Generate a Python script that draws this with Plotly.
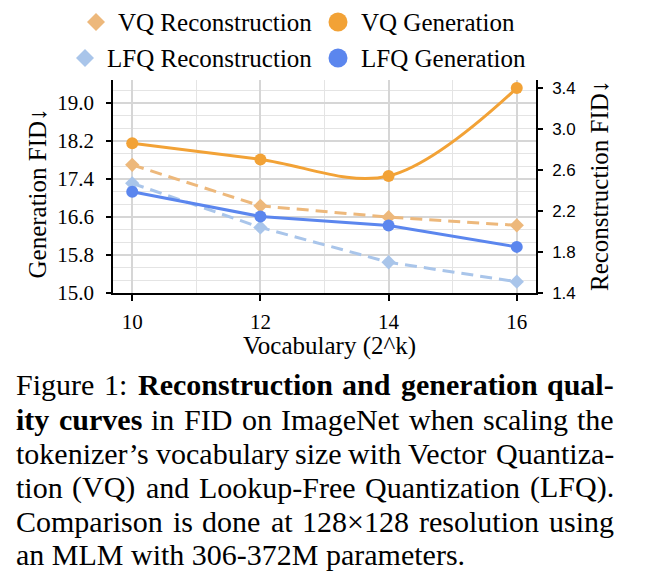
import plotly.graph_objects as go

# ---------------- data ----------------
vocab_k = [10, 12, 14, 16]
vq_generation = [18.15, 17.81, 17.46, 19.31]
lfq_generation = [17.13, 16.61, 16.42, 15.97]
vq_reconstruction = [2.65, 2.25, 2.14, 2.06]
lfq_reconstruction = [2.47, 2.04, 1.70, 1.51]

gen_ticks = [15.0, 15.8, 16.6, 17.4, 18.2, 19.0]
rec_ticks = [1.4, 1.8, 2.2, 2.6, 3.0, 3.4]
x_ticks = [10, 12, 14, 16]

# caption: (text, bold) segments per line; last line is not justified
caption_lines = [
    [("Figure 1:", False), ("Reconstruction and generation qual-", True)],
    [("ity curves", True), ("in FID on ImageNet when scaling the", False)],
    [("tokenizer\u2019s vocabulary size with Vector Quantiza-", False)],
    [("tion (VQ) and Lookup-Free Quantization (LFQ).", False)],
    [("Comparison is done at 128\u00d7128 resolution using", False)],
    [("an MLM with 306-372M parameters.", False)],
]

# ---------------- style ----------------
C_VQ_GEN = "#F2A236"
C_LFQ_GEN = "#5B86EE"
C_VQ_REC = "#EDB87B"
C_LFQ_REC = "#A9C5EA"
SERIF = "Liberation Serif, Times New Roman, serif"
SANS = "Liberation Sans, Arial, sans-serif"

W, H = 646, 578
L, R, T, B = 113, 536, 80, 293


def px(x):
    return (x - L) / (R - L)


def py(y):
    return (B - y) / (B - T)


# Times metrics (1/1000 em) used to justify the caption lines
REG = {' ': 250, '(': 333, ')': 333, ',': 250, '-': 333, '.': 250, ':': 278, '\u2019': 333, '\u00d7': 564,
       'A': 722, 'B': 667, 'C': 667, 'D': 722, 'E': 611, 'F': 556, 'G': 722, 'H': 722, 'I': 333, 'L': 611,
       'M': 889, 'N': 722, 'O': 722, 'P': 556, 'Q': 722, 'R': 667, 'S': 556, 'T': 611, 'V': 722,
       'a': 444, 'b': 500, 'c': 444, 'd': 500, 'e': 444, 'f': 333, 'g': 500, 'h': 500, 'i': 278, 'j': 278,
       'k': 500, 'l': 278, 'm': 778, 'n': 500, 'o': 500, 'p': 500, 'q': 500, 'r': 333, 's': 389, 't': 278,
       'u': 500, 'v': 500, 'w': 722, 'x': 500, 'y': 500, 'z': 444}
for d in "0123456789":
    REG[d] = 500
BOLD = {' ': 250, '-': 333, 'R': 722, 'a': 500, 'b': 556, 'c': 444, 'd': 556, 'e': 444, 'f': 333, 'g': 500,
        'h': 556, 'i': 278, 'l': 278, 'm': 833, 'n': 556, 'o': 500, 'p': 556, 'q': 556, 'r': 444, 's': 389,
        't': 333, 'u': 556, 'v': 500, 'w': 722, 'y': 500}


def word_width(word, bold, size):
    table = BOLD if bold else REG
    return sum(table.get(ch, 500) for ch in word) * size / 1000.0


fig = go.Figure()

# Reconstruction (right axis, primary 'y')
fig.add_trace(go.Scatter(
    x=vocab_k, y=vq_reconstruction, yaxis="y", mode="lines+markers",
    line=dict(color=C_VQ_REC, width=3, dash="12px,7px"),
    marker=dict(symbol="diamond", size=11, color=C_VQ_REC),
    showlegend=False, name="VQ Reconstruction"))
fig.add_trace(go.Scatter(
    x=vocab_k, y=lfq_reconstruction, yaxis="y", mode="lines+markers",
    line=dict(color=C_LFQ_REC, width=3, dash="12px,7px"),
    marker=dict(symbol="diamond", size=11, color=C_LFQ_REC),
    showlegend=False, name="LFQ Reconstruction"))
# Generation (left axis, 'y2' overlaying)
fig.add_trace(go.Scatter(
    x=vocab_k, y=vq_generation, yaxis="y2", mode="lines+markers",
    line=dict(color=C_VQ_GEN, width=3, shape="spline", smoothing=1.0),
    marker=dict(symbol="circle", size=12, color=C_VQ_GEN),
    showlegend=False, name="VQ Generation"))
fig.add_trace(go.Scatter(
    x=vocab_k, y=lfq_generation, yaxis="y2", mode="lines+markers",
    line=dict(color=C_LFQ_GEN, width=3),
    marker=dict(symbol="circle", size=12, color=C_LFQ_GEN),
    showlegend=False, name="LFQ Generation"))

grid_major = "#d6d6d6"
grid_minor = "#e4e4e4"
tickstyle = dict(tickwidth=1.5, tickcolor="black")

fig.update_layout(
    width=W, height=H,
    margin=dict(l=L, r=W - R, t=T, b=H - B, pad=0),
    paper_bgcolor="white", plot_bgcolor="white",
    xaxis=dict(
        range=[9.7, 16.3], tickvals=x_ticks, ticktext=[str(v) for v in x_ticks],
        showline=True, linecolor="black", linewidth=1.5,
        ticks="outside", ticklen=6, **tickstyle,
        tickfont=dict(family=SERIF, size=21, color="black"),
        showgrid=True, gridcolor=grid_major, gridwidth=1.5,
        minor=dict(dtick=1, tick0=10, showgrid=True, gridcolor=grid_minor, gridwidth=1.2),
        zeroline=False, ticklabelstandoff=3,
    ),
    xaxis2=dict(
        range=[9.7, 16.3], tickvals=x_ticks, overlaying="x", side="bottom",
        ticks="inside", ticklen=3, **tickstyle, showticklabels=False,
        showgrid=False, zeroline=False, showline=False,
    ),
    yaxis=dict(
        range=[1.4, 3.478], tickvals=rec_ticks, ticktext=[f"{v:.1f}" for v in rec_ticks],
        side="right", showline=True, linecolor="black", linewidth=1.5,
        ticks="outside", ticklen=5, **tickstyle,
        tickfont=dict(family=SANS, size=17, color="black"),
        showgrid=False, zeroline=False, ticklabelstandoff=6,
    ),
    yaxis2=dict(
        range=[15.0, 19.48], tickvals=gen_ticks, ticktext=[f"{v:.1f}" for v in gen_ticks],
        overlaying="y", side="left", showline=True, linecolor="black", linewidth=1.5,
        ticks="outside", ticklen=5, **tickstyle,
        tickfont=dict(family=SERIF, size=21, color="black"),
        showgrid=True, gridcolor=grid_major, gridwidth=1.5,
        minor=dict(dtick=0.8 / 3, tick0=15.0, showgrid=True, gridcolor=grid_minor, gridwidth=1.2),
        zeroline=False, ticklabelstandoff=8,
    ),
    yaxis3=dict(
        range=[15.0, 19.48], tickvals=gen_ticks, overlaying="y", side="left",
        ticks="inside", ticklen=5, **tickstyle, showticklabels=False,
        showgrid=False, zeroline=False, showline=False,
    ),
    yaxis4=dict(
        range=[1.4, 3.478], tickvals=rec_ticks, overlaying="y", side="right",
        ticks="inside", ticklen=4, **tickstyle, showticklabels=False,
        showgrid=False, zeroline=False, showline=False,
    ),
)

annotations = []
shapes = []

# axis titles
annotations.append(dict(text="Generation FID\u2193", x=px(37), y=py(193.5), xref="paper", yref="paper",
                        textangle=-90, showarrow=False, xanchor="center", yanchor="middle", borderpad=0,
                        font=dict(family=SERIF, size=25, color="black")))
annotations.append(dict(text="Reconstruction FID\u2193", x=px(599), y=py(186), xref="paper", yref="paper",
                        textangle=-90, showarrow=False, xanchor="center", yanchor="middle", borderpad=0,
                        font=dict(family=SERIF, size=25, color="black")))
annotations.append(dict(text="Vocabulary (2^k)", x=px(329), y=py(345.5), xref="paper", yref="paper",
                        showarrow=False, xanchor="center", yanchor="middle", borderpad=0,
                        font=dict(family=SERIF, size=25, color="black")))

# legend (manual)
legend_items = [
    ("VQ Reconstruction", "diamond", C_VQ_REC, 96, 313, 22, "right"),
    ("VQ Generation", "circle", C_VQ_GEN, 338, 360, 22, "left"),
    ("LFQ Reconstruction", "diamond", C_LFQ_REC, 85, 313, 58, "right"),
    ("LFQ Generation", "circle", C_LFQ_GEN, 338, 360, 58, "left"),
]
for text, sym, col, mx, tx, yy, anch in legend_items:
    if sym == "circle":
        shapes.append(dict(type="circle", xref="paper", yref="paper", xsizemode="pixel", ysizemode="pixel",
                           xanchor=px(mx), yanchor=py(yy), x0=-9.5, x1=9.5, y0=-9.5, y1=9.5,
                           fillcolor=col, line=dict(width=0)))
    else:
        shapes.append(dict(type="path", xref="paper", yref="paper", xsizemode="pixel", ysizemode="pixel",
                           xanchor=px(mx), yanchor=py(yy), path="M -9 0 L 0 9 L 9 0 L 0 -9 Z",
                           fillcolor=col, line=dict(width=0)))
    annotations.append(dict(text=text, x=px(tx), y=py(yy), xref="paper", yref="paper", showarrow=False,
                            xanchor=anch, yanchor="middle", borderpad=0,
                            font=dict(family=SERIF, size=25, color="black")))

# caption (justified between x=15 and x=613, except the last line)
CAP_SIZE = 30
CAP_LEFT, CAP_RIGHT = 15, 613
baselines = [396, 431, 465, 499, 533, 566]
for i, (segments, bl) in enumerate(zip(caption_lines, baselines)):
    ybox = py(bl + 0.216 * CAP_SIZE)
    words = []
    for seg, bold in segments:
        for w in seg.split(" "):
            words.append((w, bold))
    if i == len(caption_lines) - 1:
        text = " ".join(f"<b>{w}</b>" if b else w for w, b in words)
        annotations.append(dict(text=text, x=px(CAP_LEFT), y=ybox, xref="paper", yref="paper",
                                showarrow=False, xanchor="left", yanchor="bottom", borderpad=0,
                                font=dict(family=SERIF, size=CAP_SIZE, color="black")))
        continue
    widths = [word_width(w, b, CAP_SIZE) for w, b in words]
    gap = (CAP_RIGHT - CAP_LEFT - sum(widths)) / (len(words) - 1)
    xpos = CAP_LEFT
    for (w, b), wd in zip(words, widths):
        annotations.append(dict(text=f"<b>{w}</b>" if b else w, x=px(xpos), y=ybox, xref="paper", yref="paper",
                                showarrow=False, xanchor="left", yanchor="bottom", borderpad=0,
                                font=dict(family=SERIF, size=CAP_SIZE, color="black")))
        xpos += wd + gap

fig.update_layout(annotations=annotations, shapes=shapes)
fig.write_html("out.html")
